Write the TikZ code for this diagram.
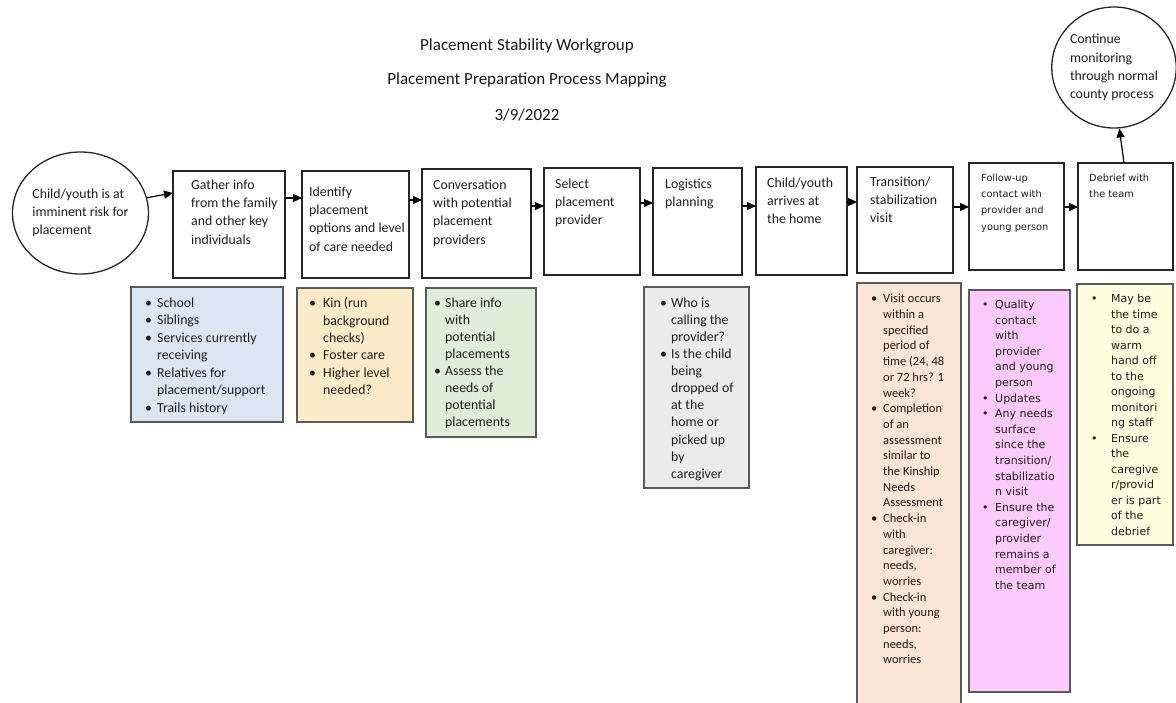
\documentclass[tikz,border=0pt]{standalone}
\usepackage{fontspec}
\setmainfont{Carlito}
\newfontfamily\tah{DejaVu Sans}
\usetikzlibrary{arrows.meta,shapes.geometric,calc}
\newlength\bw
\newcommand\B{\makebox[\bw][l]{\textbullet}}
\newcommand\C{\makebox[\bw][l]{}}
\definecolor{txt}{HTML}{221C1C}
\definecolor{cblue}{HTML}{DCE6F2}
\definecolor{corange}{HTML}{FCEBC9}
\definecolor{cgreen}{HTML}{E0EDD8}
\definecolor{cgray}{HTML}{EBEBEB}
\definecolor{cpeach}{HTML}{FBE5D6}
\definecolor{cpink}{HTML}{FDCAFD}
\definecolor{cyellow}{HTML}{FDFDE0}
\begin{document}
\begin{tikzpicture}[x=1pt,y=-1pt,
  stepbox/.style={draw=black!85,line width=1.3pt,anchor=north west,inner sep=0,outer sep=0},
  notebox/.style={draw=black!65,line width=1.4pt,anchor=north west,inner sep=0,outer sep=0},
  lbl/.style={anchor=north west,inner sep=0,align=left,text=txt},
  cal/.style={font=\fontsize{13.8}{18.3}\selectfont},
  tahs/.style={font=\tah\fontsize{9.8}{16.3}\selectfont},
  circ/.style={draw=black!85,line width=1.3pt,ellipse,inner sep=0,align=left,text=txt,font=\fontsize{13.8}{18.3}\selectfont},
  arr/.style={-{Triangle[length=9pt,width=8pt]},line width=1.2pt},
  ttl/.style={inner sep=0,font=\fontsize{17}{20}\selectfont,text=black!90}
]
\useasboundingbox (0,0) rectangle (1176,702);
% titles
\node[ttl] (t1) at (527,46) {Placement Stability Workgroup};
\node[ttl] (t2) at (527,80) {Placement Preparation Process Mapping};
\node[ttl] (t3) at (527,115) {3/9/2022};
% circles
\node[circ,minimum width=131,minimum height=122] (start) at (80.5,213) {Child/youth is at\\imminent risk for\\placement};
\node[circ,minimum width=122,minimum height=121] (endc) at (1114,67.5) {Continue\\monitoring\\through normal\\county process};
% step boxes
\node[stepbox,minimum width=112,minimum height=107] (gather) at (173,171) {};
\node[stepbox,minimum width=107,minimum height=107] (ident) at (302,171) {};
\node[stepbox,minimum width=109,minimum height=109] (conv) at (422,169) {};
\node[stepbox,minimum width=96,minimum height=107] (select) at (544,168) {};
\node[stepbox,minimum width=89,minimum height=107] (logis) at (653,168) {};
\node[stepbox,minimum width=91,minimum height=108] (arrive) at (756,167) {};
\node[stepbox,minimum width=96,minimum height=106] (trans) at (857,167) {};
\node[stepbox,minimum width=95,minimum height=107] (follow) at (969,163) {};
\node[stepbox,minimum width=95,minimum height=107] (debrief) at (1078,163) {};
% step texts
\node[lbl,cal] (gathert) at ($(gather.north west)+(18,8.5)$) {Gather info\\from the family\\and other key\\individuals};
\node[lbl,cal] (identt) at ($(ident.north west)+(7,15.5)$) {Identify\\placement\\options and level\\of care needed};
\node[lbl,cal] (convt) at ($(conv.north west)+(11,10.5)$) {Conversation\\with potential\\placement\\providers};
\node[lbl,cal] (selectt) at ($(select.north west)+(11,10.5)$) {Select\\placement\\provider};
\node[lbl,cal] (logist) at ($(logis.north west)+(12,10.5)$) {Logistics\\planning};
\node[lbl,cal] (arrivet) at ($(arrive.north west)+(11,10.5)$) {Child/youth\\arrives at\\the home};
\node[lbl,cal] (transt) at ($(trans.north west)+(13,9.5)$) {Transition/\\stabilization\\visit};
\node[lbl,tahs] (followt) at ($(follow.north west)+(12,10.5)$) {Follow-up\\contact with\\provider and\\young person};
\node[lbl,tahs] (debrieft) at ($(debrief.north west)+(11,10.5)$) {Debrief with\\the team};
% arrows
\draw[arr] (start.13) -- (gather.west |- 0,193);
\draw[arr] (gather.east |- 0,198) -- (ident.west |- 0,198);
\draw[arr] (ident.east |- 0,200) -- (conv.west |- 0,200);
\draw[arr] (conv.east |- 0,206) -- (select.west |- 0,206);
\draw[arr] (select.east |- 0,203) -- (logis.west |- 0,203);
\draw[arr] (logis.east |- 0,206) -- (arrive.west |- 0,206);
\draw[arr] (arrive.east |- 0,202) -- (trans.west |- 0,202);
\draw[arr] (trans.east |- 0,207) -- (follow.west |- 0,207);
\draw[arr] (follow.east |- 0,207) -- (debrief.west |- 0,207);
\draw[arr] (debrief.north -| 1124,0) -- (endc.-85);
% note boxes
\node[notebox,fill=cblue,minimum width=152,minimum height=135] (nblue) at (131,287) {};
\node[notebox,fill=corange,minimum width=116,minimum height=134] (norange) at (297,288) {};
\node[notebox,fill=cgreen,minimum width=110,minimum height=149] (ngreen) at (426,288) {};
\node[notebox,fill=cgray,minimum width=105,minimum height=201] (ngray) at (644,287) {};
\node[notebox,fill=cpeach,minimum width=104,minimum height=430] (npeach) at (857,283) {};
\node[notebox,fill=cpink,minimum width=101,minimum height=402] (npink) at (969,290) {};
\node[notebox,fill=cyellow,minimum width=96,minimum height=261] (nyellow) at (1077,284) {};
% note texts
\node[lbl,font={\fontsize{13.8}{17.5}\selectfont\setlength\bw{12pt}}] (nbluet) at ($(nblue.north west)+(14,10.5)$)
 {\B School\\\B Siblings\\\B Services currently\\\C receiving\\\B Relatives for\\\C placement/support\\\B Trails history};
\node[lbl,font={\fontsize{13.8}{17.4}\selectfont\setlength\bw{14pt}}] (noranget) at ($(norange.north west)+(12,9.5)$)
 {\B Kin (run\\\C background\\\C checks)\\\B Foster care\\\B Higher level\\\C needed?};
\node[lbl,font={\fontsize{13.8}{17.1}\selectfont\setlength\bw{11pt}}] (ngreent) at ($(ngreen.north west)+(8,9.5)$)
 {\B Share info\\\C with\\\C potential\\\C placements\\\B Assess the\\\C needs of\\\C potential\\\C placements};
\node[lbl,font={\fontsize{13.8}{17.1}\selectfont\setlength\bw{11pt}}] (ngrayt) at ($(ngray.north west)+(16,10.5)$)
 {\B Who is\\\C calling the\\\C provider?\\\B Is the child\\\C being\\\C dropped of\\\C at the\\\C home or\\\C picked up\\\C by\\\C caregiver};
\node[lbl,font={\fontsize{12.5}{15.7}\selectfont\setlength\bw{12pt}}] (npeacht) at ($(npeach.north west)+(14,11)$)
 {\B Visit occurs\\\C within a\\\C specified\\\C period of\\\C time (24, 48\\\C or 72 hrs? 1\\\C week?\\\B Completion\\\C of an\\\C assessment\\\C similar to\\\C the Kinship\\\C Needs\\\C Assessment\\\B Check-in\\\C with\\\C caregiver:\\\C needs,\\\C worries\\\B Check-in\\\C with young\\\C person:\\\C needs,\\\C worries};
\node[lbl,font={\tah\fontsize{11}{15.6}\selectfont\setlength\bw{13pt}}] (npinkt) at ($(npink.north west)+(13,10)$)
 {\B Quality\\\C contact\\\C with\\\C provider\\\C and young\\\C person\\\B Updates\\\B Any needs\\\C surface\\\C since the\\\C transition/\\\C stabilizatio\\\C n visit\\\B Ensure the\\\C caregiver/\\\C provider\\\C remains a\\\C member of\\\C the team};
\node[lbl,font={\tah\fontsize{11}{15.5}\selectfont\setlength\bw{20pt}}] (nyellowt) at ($(nyellow.north west)+(14,10)$)
 {\B May be\\\C the time\\\C to do a\\\C warm\\\C hand off\\\C to the\\\C ongoing\\\C monitori\\\C ng staff\\\B Ensure\\\C the\\\C caregive\\\C r/provid\\\C er is part\\\C of the\\\C debrief};
\end{tikzpicture}
\end{document}
